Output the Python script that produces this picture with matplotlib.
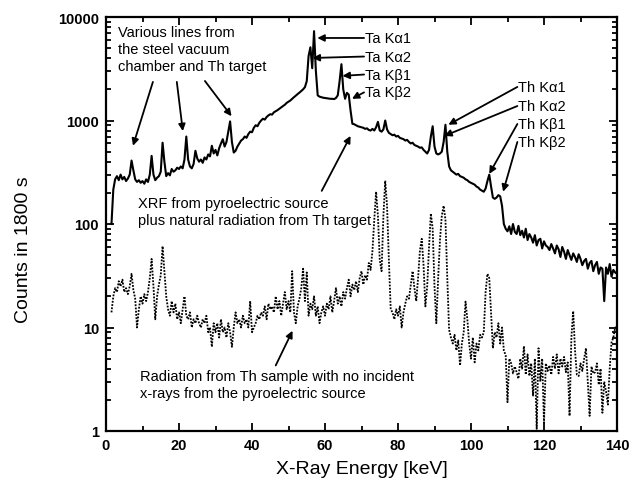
import numpy as np
import matplotlib
matplotlib.use('Agg')
from matplotlib import pyplot as plt
from matplotlib.ticker import MultipleLocator, LogLocator, FixedFormatter, FixedLocator

plt.rcParams['font.family'] = ['Liberation Sans', 'DejaVu Sans']

# channel energies in keV (0.5 keV bins from 1.5 to 140)
energy = np.arange(1.5, 140.01, 0.5)

# XRF from pyroelectric source plus natural radiation (solid line)
xrf_counts = [
    100, 215, 270, 290, 265, 300, 270, 285, 260, 275,
    300, 410, 330, 270, 255, 265, 250, 260, 245, 270,
    255, 300, 455, 300, 265, 280, 290, 320, 610, 400,
    290, 310, 295, 340, 320, 330, 350, 340, 360, 345,
    420, 700, 420, 360, 345, 380, 510, 430, 400, 420,
    390, 440, 420, 470, 450, 570, 480, 520, 460, 540,
    600, 660, 560, 620, 780, 980, 620, 490, 510, 560,
    600, 640, 660, 700, 680, 740, 780, 770, 850, 900,
    880, 950, 1000, 1040, 1020, 1080, 1120, 1150, 1140, 1200,
    1230, 1260, 1300, 1340, 1380, 1420, 1480, 1520, 1560, 1620,
    1680, 1740, 1800, 1860, 1930, 2000, 2100, 2400, 4200, 5100,
    3200, 7300, 3000, 1750, 1700, 1680, 1660, 1650, 1640, 1630,
    1620, 1620, 1610, 1650, 1750, 2400, 3500, 2000, 1620, 1850,
    1780, 1250, 930, 920, 900, 880, 870, 860, 850, 830,
    840, 810, 800, 830, 800, 860, 970, 800, 780, 820,
    1000, 820, 760, 740, 720, 730, 700, 710, 680, 670,
    660, 640, 650, 620, 600, 610, 580, 570, 560, 545,
    550, 520, 500, 480, 520, 700, 880, 560, 480, 470,
    480, 500, 620, 910, 500, 360, 330, 320, 310, 300,
    305, 290, 285, 280, 270, 265, 255, 250, 245, 240,
    230, 225, 215, 210, 205, 220, 260, 300, 230, 180,
    175, 180, 190, 185, 150, 100, 90, 85, 95, 80,
    100, 84, 80, 96, 78, 86, 74, 90, 70, 80,
    74, 66, 78, 62, 70, 72, 58, 68, 62, 60,
    56, 64, 58, 52, 62, 57, 48, 60, 54, 46,
    56, 50, 45, 52, 48, 43, 51, 46, 40, 44,
    46, 37, 42, 44, 35, 40, 43, 33, 38, 37,
    18, 38, 33, 41, 31, 36, 34, 33,
]

# Th sample without incident x-rays (dotted line)
bkg_counts = [
    14, 20, 24, 22, 28, 25, 29, 22, 24, 21,
    25, 33, 23, 19, 10, 15, 20, 17, 21, 18,
    22, 30, 46, 25, 12, 20, 26, 32, 61, 35,
    20, 15, 13, 18, 14, 17, 12, 14, 11, 15,
    20, 13, 12, 14, 10, 12, 11, 13, 11, 10,
    12, 11, 13, 9, 10, 6.5, 11, 9, 11, 8,
    12, 9, 10, 8, 11, 9, 6.5, 10, 14, 11,
    12, 10, 13, 11, 12, 10, 18, 9, 10, 11,
    13, 12, 14, 13, 16, 12, 17, 15, 16, 14,
    20, 15, 18, 13, 17, 22, 15, 18, 14, 35,
    14, 11, 16, 19, 24, 37, 18, 34, 13, 17,
    15, 20, 13, 16, 11, 14, 16, 13, 17, 15,
    20, 14, 18, 24, 17, 20, 16, 22, 19, 24,
    29, 20, 26, 23, 28, 22, 30, 35, 26, 32,
    29, 42, 36, 55, 110, 205, 120, 45, 35, 120,
    262, 150, 45, 15, 14, 12, 15, 13, 16, 10,
    14, 17, 20, 19, 26, 35, 24, 18, 30, 55,
    72, 40, 16, 25, 60, 126, 90, 25, 11, 30,
    70, 120, 150, 110, 30, 9.5, 8, 7, 8.5, 6,
    7.5, 4.3, 7, 9, 17.8, 12, 7, 5, 8, 4.6,
    7, 6, 8.5, 8, 9, 22, 33, 30, 14, 6.3,
    9, 8, 11, 7, 10, 6, 5.4, 1.9, 5, 4.5,
    3.6, 4.2, 3.7, 3.2, 5, 4, 6.6, 3.5, 5.5, 3.4,
    4.5, 2.2, 5, 1.05, 6.3, 3, 5, 1.2, 4.5, 3.8,
    4.3, 3.5, 5.2, 4, 5.5, 3.6, 5, 4.2, 5.2, 3.7,
    4.6, 1.4, 8, 14.4, 6, 3.5, 3.4, 4.5, 3.8, 5,
    6.3, 3, 1.4, 4.2, 3.6, 3.7, 4.5, 2.8, 4, 1.5,
    3, 2.4, 1.8, 4, 7.2, 8, 10, 10,
]

x_ticks = [0, 20, 40, 60, 80, 100, 120, 140]
y_ticks = [1, 10, 100, 1000, 10000]
y_tick_labels = ['1', '10', '100', '1000', '10000']

# line labels: (text, label position, arrow head) in data coords
ta_lines = [
    ('Ta K\u03b11', (70.9, 6270), (57.9, 6270)),
    ('Ta K\u03b12', (70.9, 4150), (56.6, 4020)),
    ('Ta K\u03b21', (70.9, 2780), (64.8, 2700)),
    ('Ta K\u03b22', (70.9, 1870), (67.4, 1620)),
]
th_lines = [
    ('Th K\u03b11', (112.9, 2110), (93.8, 910)),
    ('Th K\u03b12', (112.9, 1380), (92.7, 710)),
    ('Th K\u03b21', (112.9, 925), (105.0, 305)),
    ('Th K\u03b22', (112.9, 620), (108.8, 205)),
]
steel_arrows = [((12.85, 2360), (7.4, 570)),
                ((19.4, 2360), (21.05, 790)),
                ((27.1, 2410), (34.4, 1100))]

fig = plt.figure(figsize=(6.31, 4.89), dpi=100)
ax = fig.add_axes([106 / 631, 57 / 489, 511 / 631, 414 / 489])

ax.plot(energy, xrf_counts, color='black', lw=1.5)
ax.plot(energy, bkg_counts, color='black', lw=1.3, linestyle=(0, (1, 0.8)))

ax.set_yscale('log')
ax.set_xlim(0, 140)
ax.set_ylim(1, 10000)

ax.xaxis.set_major_locator(FixedLocator(x_ticks))
ax.xaxis.set_minor_locator(MultipleLocator(10))
ax.yaxis.set_major_locator(FixedLocator(y_ticks))
ax.yaxis.set_major_formatter(FixedFormatter(y_tick_labels))
ax.yaxis.set_minor_locator(LogLocator(base=10, subs=np.arange(2, 10)))

ax.tick_params(which='both', direction='in', top=True, right=True, width=1.3)
ax.tick_params(which='major', length=6, labelsize=10.5, pad=5)
ax.tick_params(which='minor', length=3.5)
for lab in ax.get_xticklabels() + ax.get_yticklabels():
    lab.set_fontweight('bold')
for sp in ax.spines.values():
    sp.set_linewidth(1.6)

ax.set_xlabel('X-Ray Energy [keV]', fontsize=14)
ax.set_ylabel('Counts in 1800 s', fontsize=14)
ax.xaxis.set_label_coords(0.5, -0.07)
ax.yaxis.set_label_coords(-0.145, 0.44)

arrow = dict(arrowstyle='-|>', color='black', lw=1.3, mutation_scale=10,
             shrinkA=0, shrinkB=0)
fs = 10.5

ax.text(3.2, 8300, 'Various lines from\nthe steel vacuum\nchamber and Th target',
        fontsize=fs, va='top', ha='left', linespacing=1.25)
for tail, head in steel_arrows:
    ax.annotate('', xy=head, xytext=tail, arrowprops=arrow)

for label, pos, head in ta_lines + th_lines:
    ax.text(pos[0], pos[1], label, fontsize=fs, va='center', ha='left')
    ax.annotate('', xy=head, xytext=(pos[0] - 0.2, pos[1]), arrowprops=arrow)

ax.text(8.8, 133, 'XRF from pyroelectric source\nplus natural radiation from Th target',
        fontsize=fs, va='center', ha='left', linespacing=1.25)
ax.annotate('', xy=(67.0, 710), xytext=(59.1, 209), arrowprops=arrow)

ax.text(9.3, 2.81, 'Radiation from Th sample with no incident\nx-rays from the pyroelectric source',
        fontsize=fs, va='center', ha='left', linespacing=1.25)
ax.annotate('', xy=(51.1, 9.3), xytext=(46.5, 4.3), arrowprops=arrow)

fig.savefig('out.png', dpi=100)
